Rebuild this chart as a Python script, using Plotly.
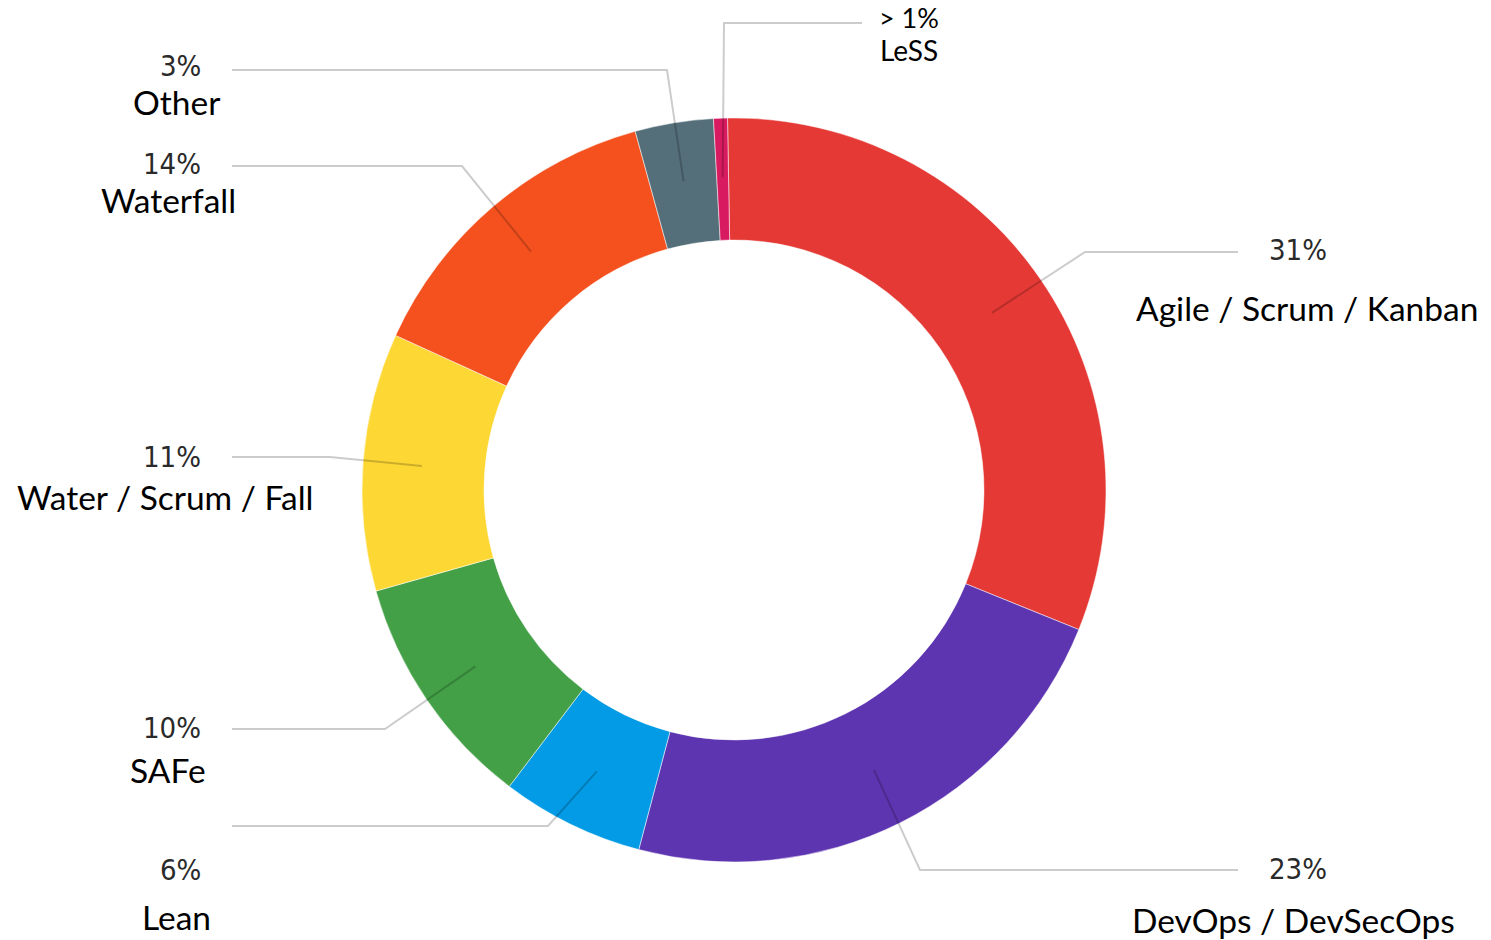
import math
import plotly.graph_objects as go

# ---- data ----
categories = ["Agile / Scrum / Kanban", "DevOps / DevSecOps", "Lean", "SAFe",
              "Water / Scrum / Fall", "Waterfall", "Other", "LeSS"]
values = [31.4, 23.0, 6.2, 10.3, 11.2, 13.9, 3.4, 0.6]
pct_labels = ["31%", "23%", "6%", "10%", "11%", "14%", "3%", "> 1%"]
colors = ["#E53935", "#5E35B1", "#039BE5", "#43A047", "#FDD835", "#F4511E", "#546E7A", "#D81B60"]

# ---- layout (pixels) ----
W, H = 1491, 940
CX, CY, R_OUT = 734, 490, 372
HOLE = 0.672
ROTATION = -1
R_ANCHOR = 313

# elbow point, end point of leader line; label centers (pct, name)
elbows = [(1085, 252), (920, 870), (548, 826), (385, 729), (330, 457), (462, 166), (667, 70), (724, 23)]
ends = [(1238, 252), (1238, 870), (232, 826), (232, 729), (232, 457), (232, 166), (232, 70), (862, 23)]
pct_pos = [(1298, 250), (1298, 869), (180, 870), (172, 728), (172, 457), (172, 164), (180, 66), (909, 18)]
name_pos = [(1307, 308), (1293, 920), (176, 917), (168, 770), (165, 497), (168, 200), (176, 102), (909, 50)]


def px(x):
    return x / W


def py(y):
    return 1 - y / H


fig = go.Figure(go.Pie(
    labels=categories, values=values, sort=False, direction="clockwise",
    rotation=ROTATION, hole=HOLE, textinfo="none", hoverinfo="label+percent",
    marker=dict(colors=colors, line=dict(color="white", width=0.5)),
    domain=dict(x=[px(CX - R_OUT), px(CX + R_OUT)], y=[py(CY + R_OUT), py(CY - R_OUT)]),
    showlegend=False,
))

total = sum(values)
cum = 0.0
shapes = []
annotations = []
for i, v in enumerate(values):
    mid = math.radians(ROTATION + (cum + v / 2) / total * 360)
    cum += v
    ax = CX + R_ANCHOR * math.sin(mid)
    ay = CY - R_ANCHOR * math.cos(mid)
    ex, ey = elbows[i]
    tx, ty = ends[i]
    path = f"M {px(ax)},{py(ay)} L {px(ex)},{py(ey)} L {px(tx)},{py(ty)}"
    shapes.append(dict(type="path", path=path, xref="paper", yref="paper",
                       line=dict(color="rgba(0,0,0,0.2)", width=2), layer="above"))
    is_less = categories[i] == "LeSS"
    annotations.append(dict(
        x=px(pct_pos[i][0]), y=py(pct_pos[i][1]), xref="paper", yref="paper",
        text=pct_labels[i], showarrow=False, xanchor="center", yanchor="middle",
        font=dict(family="Lato" if is_less else "DejaVu Sans Condensed",
                  size=27 if is_less else 29,
                  color="#000" if is_less else "#2a2a2a")))
    annotations.append(dict(
        x=px(name_pos[i][0]), y=py(name_pos[i][1]), xref="paper", yref="paper",
        text=categories[i], showarrow=False, xanchor="center", yanchor="middle",
        font=dict(family="Lato", size=28 if is_less else 33.5, color="#000")))

fig.update_layout(
    width=W, height=H, margin=dict(l=0, r=0, t=0, b=0),
    paper_bgcolor="white", plot_bgcolor="white",
    shapes=shapes, annotations=annotations,
)

fig.write_html("out.html", config={"displayModeBar": False},
               post_script="document.body.style.margin='0';document.body.style.overflow='hidden';")
